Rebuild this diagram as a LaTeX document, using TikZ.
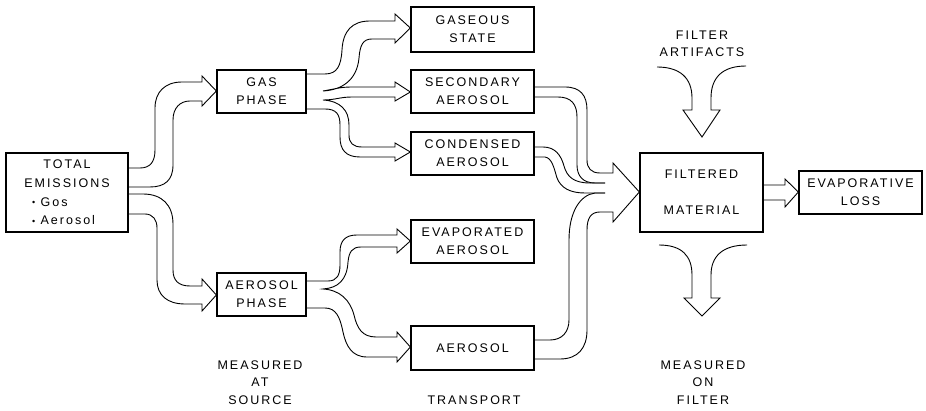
\documentclass[tikz,border=0pt]{standalone}
\usepackage{fontspec}
\setmainfont{Liberation Sans}[LetterSpace=16]
\newcommand{\bul}{\raisebox{0.6pt}{\fontsize{9}{9}\selectfont •}\ }
\begin{document}
\begin{tikzpicture}[x=1pt,y=-1pt,
  box/.style={draw, line width=1.3pt, inner sep=0pt, align=center, font=\fontsize{12.5}{18}\selectfont},
  fat/.style={line width=0.9pt, line join=miter},
  lbl/.style={align=center, font=\fontsize{12.5}{17.5}\selectfont, inner sep=0pt}]
\useasboundingbox (0,0) rectangle (926,411);

% boxes
\node[box, minimum width=122pt, minimum height=79pt, font=\fontsize{12.5}{18.7}\selectfont] (total) at (67,192.5)
  {TOTAL\\EMISSIONS\\\makebox[70pt][l]{\bul Gos}\\\makebox[70pt][l]{\bul Aerosol}};
\node[box, minimum width=89pt, minimum height=43pt] (gasph) at (261.5,91.5) {GAS\\PHASE};
\node[box, minimum width=89pt, minimum height=43pt] (aerph) at (261.5,294.5) {AEROSOL\\PHASE};
\node[box, minimum width=123pt, minimum height=45pt] (gaseous) at (472.5,29.5) {GASEOUS\\STATE};
\node[box, minimum width=123pt, minimum height=43pt] (second) at (472.5,91.5) {SECONDARY\\AEROSOL};
\node[box, minimum width=123pt, minimum height=43pt] (cond) at (472.5,153.5) {CONDENSED\\AEROSOL};
\node[box, minimum width=123pt, minimum height=43pt] (evap) at (472.5,241.5) {EVAPORATED\\AEROSOL};
\node[box, minimum width=123pt, minimum height=44pt] (aer) at (472.5,348) {AEROSOL};
\node[box, minimum width=123pt, minimum height=79pt] (filt) at (701.5,192.5) {FILTERED\\[18pt]MATERIAL};
\node[box, minimum width=123pt, minimum height=43pt] (loss) at (860.5,192.5) {EVAPORATIVE\\LOSS};

% labels
\node[lbl] (src) at (260,382.5) {MEASURED\\AT\\SOURCE};
\node[lbl] (trans) at (474,400) {TRANSPORT};
\node[lbl] (onf) at (703,382.5) {MEASURED\\ON\\FILTER};
\node[lbl] (artif) at (702,44) {FILTER\\ARTIFACTS};

\coordinate (m1) at (605,183);
\coordinate (m2) at (605,193);
\coordinate (fa) at (702,137);
\coordinate (fb) at (702,316);

% total -> gas phase
\draw[fat] (total.east |- 0,168) -- (140,168) .. controls (150,168) and (155,162) .. (155,150) -- (155,108)
  .. controls (155,92) and (165,82) .. (182,82) -- (202,82) -- (202,76) -- (gasph.west |- 0,91)
  -- (202,106) -- (202,101) -- (190,101) .. controls (180,101) and (173,108) .. (173,120) -- (173,165)
  .. controls (173,180) and (165,187) .. (150,187) -- (total.east |- 0,187);

% total -> aerosol phase
\draw[fat] (total.east |- 0,194) -- (143,194) .. controls (162,194) and (173,205) .. (173,224) -- (173,270)
  .. controls (173,280) and (178,286) .. (190,286) -- (202,286) -- (202,279) -- (aerph.west |- 0,295)
  -- (202,311) -- (202,304) -- (185,304) .. controls (167,304) and (157,295) .. (157,280) -- (157,228)
  .. controls (157,220) and (153,214) .. (145,214) -- (total.east |- 0,214);

% gas phase -> gaseous / secondary / condensed
\draw[fat] (gasph.east |- 0,74) -- (325,74) .. controls (337,74) and (341,66) .. (342,50)
  .. controls (343,31) and (352,21) .. (370,21) -- (395,21) -- (395,14) -- (gaseous.west |- 0,28)
  -- (395,43) -- (395,39) -- (372,39) .. controls (363,39) and (360,45) .. (359,58)
  .. controls (357,80) and (342,90) .. (323,91)
  .. controls (335,89) and (340,87) .. (352,87) -- (395,87) -- (395,82) -- (second.west |- 0,92)
  -- (395,101) -- (395,97) -- (352,97) .. controls (340,97) and (335,100) .. (323,100)
  .. controls (340,101) and (349,110) .. (349,125) -- (349,135) .. controls (349,143) and (353,147) .. (362,147)
  -- (395,147) -- (395,143) -- (cond.west |- 0,152) -- (395,161) -- (395,157) -- (360,157)
  .. controls (346,157) and (340,150) .. (340,137) -- (340,125) .. controls (340,114) and (336,109) .. (325,109)
  -- (gasph.east |- 0,109);

% aerosol phase -> evaporated / aerosol
\draw[fat] (aerph.east |- 0,281) -- (328,281) .. controls (337,281) and (340,275) .. (340,265) -- (340,252)
  .. controls (340,241) and (345,235) .. (357,235) -- (397,235) -- (397,229) -- (evap.west |- 0,241)
  -- (397,253) -- (397,247) -- (361,247) .. controls (352,247) and (349,252) .. (348,262)
  .. controls (347,280) and (338,288) .. (323,289)
  .. controls (340,290) and (350,300) .. (354,315) .. controls (357,328) and (362,337) .. (376,337)
  -- (397,337) -- (397,332) -- (aer.west |- 0,347) -- (397,362) -- (397,357) -- (367,357)
  .. controls (352,357) and (346,346) .. (343,332) .. controls (340,317) and (336,308) .. (325,308)
  -- (aerph.east |- 0,308);

% merge into filtered material
\draw[fat] (second.east |- 0,87) -- (565,87) .. controls (580,87) and (587,95) .. (587,110) -- (587,160)
  .. controls (587,168) and (591,173) .. (600,173) -- (613,173) -- (613,163) -- (filt.west |- 0,192)
  -- (613,222) -- (613,212) -- (600,212) .. controls (591,212) and (587,218) .. (587,230) -- (587,330)
  .. controls (587,348) and (578,359) .. (560,359) -- (aer.east |- 0,359);
\draw[fat] (second.east |- 0,97) -- (558,97) .. controls (571,97) and (577,104) .. (577,117) -- (577,165)
  .. controls (577,176) and (583,183) .. (595,183) -- (m1);
\draw[fat] (cond.east |- 0,147) -- (543,147) .. controls (555,147) and (561,155) .. (564,166)
  .. controls (567,177) and (574,183) .. (590,183) -- (m1);
\draw[fat] (cond.east |- 0,157) -- (545,157) .. controls (552,158) and (554,168) .. (557,178)
  .. controls (561,188) and (570,193) .. (585,193) -- (m2);
\draw[fat] (aer.east |- 0,340) -- (550,340) .. controls (562,340) and (569,332) .. (569,320) -- (569,240)
  .. controls (569,212) and (580,195) .. (595,193) -- (m2);

% filter artifacts
\draw[fat] (657,67) .. controls (680,67) and (692,78) .. (692,98) -- (692,110) -- (683,110) -- (fa)
  -- (720,110) -- (711,110) -- (711,98) .. controls (711,78) and (722,66) .. (746,66);

% measured on filter
\draw[fat] (659,245) .. controls (682,245) and (692,256) .. (692,275) -- (692,298) -- (684,298) -- (fb)
  -- (720,298) -- (711,298) -- (711,275) .. controls (711,256) and (723,245) .. (747,245);

% filtered -> evaporative loss
\draw[fat] (filt.east |- 0,185) -- (785,185) -- (785,179) -- (loss.west |- 0,192) -- (785,207)
  -- (785,200) -- (filt.east |- 0,200);
\end{tikzpicture}
\end{document}
